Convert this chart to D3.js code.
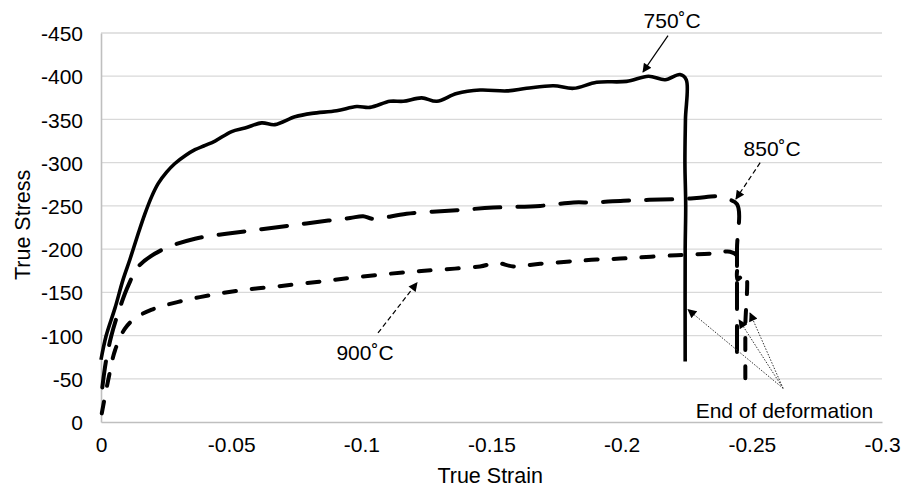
<!DOCTYPE html>
<html lang="en">
  <head>
    <title>True Stress vs True Strain</title>
    <meta charset="utf-8">
    <script src="https://d3js.org/d3.v7.min.js"></script>
    <style>
      body {
        margin: 0;
        background: #fff;
      }
      svg text {
        font-family: "Liberation Sans", Arial, sans-serif;
        fill: #000;
      }
      .grid line {
        stroke: #d9d9d9;
        stroke-width: 1.3;
      }
      .curve {
        fill: none;
        stroke: #000;
        stroke-linejoin: round;
      }
    </style>
  </head>
  <body>
    <div id="main"></div>
    <script>
      // strain, stress pairs
      var curve750 = [[0,-72],[0.002,-100],[0.0054,-132],[0.0085,-165],[0.0111,-188],[0.0143,-218],[0.0169,-241],[0.0195,-261],
        [0.022,-276],[0.0252,-289],[0.0284,-299],[0.0323,-308],[0.0361,-315],[0.04,-320],[0.0438,-325],[0.0502,-336],
        [0.0553,-340],[0.0617,-346],[0.0668,-344],[0.0745,-353],[0.081,-357],
        [0.0905,-360],[0.0982,-365],[0.1033,-364],[0.111,-371],[0.1161,-371],[0.1232,-375],[0.129,-371],[0.1366,-380],
        [0.1456,-384],[0.1559,-383],[0.1635,-386],[0.1738,-389],[0.1815,-386],[0.1904,-393],[0.2019,-394],[0.2103,-400],
        [0.2167,-396],[0.2224,-402],[0.2248,-396],[0.2245,-350],[0.2243,-300],[0.2246,-250],[0.2244,-200],[0.2244,-70]];
      var curve850 = [[0.0005,-40],[0.002,-72],[0.004,-100],[0.007,-130],[0.0105,-158],[0.0144,-180],[0.0233,-199],
        [0.0361,-212],[0.0489,-218],[0.0617,-223],[0.0745,-228],[0.0873,-233],[0.0957,-236],[0.1007,-238],[0.1045,-235],
        [0.1174,-241],[0.1366,-245],[0.1507,-248],[0.1687,-250],[0.1815,-254],[0.189,-254],[0.2007,-256],[0.2224,-258],
        [0.2288,-259],[0.2365,-261],[0.239,-259],[0.2443,-252],[0.2443,-200],[0.2443,-130],[0.2443,-64]];
      var curve900 = [[0.0003,-10],[0.0028,-49],[0.0054,-83],[0.0092,-108],[0.0131,-120],[0.0195,-130],[0.0297,-139],
        [0.0425,-147],[0.0553,-153],[0.0681,-157],[0.0829,-162],[0.0969,-167],[0.1161,-173],[0.129,-176],[0.1456,-180],
        [0.152,-184],[0.1584,-180],[0.1687,-183],[0.1815,-186],[0.1904,-188],[0.1994,-189],[0.2211,-193],[0.2352,-195],
        [0.2416,-197],[0.2443,-192],[0.2445,-165],[0.2475,-172],[0.2475,-110],[0.2475,-45]];
      var xTicks = [0, -0.05, -0.1, -0.15, -0.2, -0.25, -0.3];
      var yTicks = [0, -50, -100, -150, -200, -250, -300, -350, -400, -450];
      var tempLabels = ["750˚C", "850˚C", "900˚C"];
      var labelAt = [[0.2194,-456],[0.2578,-308],[0.1014,-72]];//text anchor points
      var labelArrows = [[[0.2178,-447],[0.2082,-405]],[[0.2532,-300],[0.2439,-258]],[[0.1064,-103],[0.1214,-161]]];
      var endText = "End of deformation";
      var endAt = [0.2625,-5];
      var endFrom = [0.262,-39];
      var endTo = [[0.2255,-130],[0.2451,-118],[0.2493,-126]];

      var width = 916, height = 489;
      var canvas = d3.select("#main").append("svg")
        .attr("width", width)
        .attr("height", height);//create canvas
      var x = d3.scaleLinear().domain([0, -0.3]).range([101, 882]);
      var y = d3.scaleLinear().domain([0, -450]).range([422, 33]);

      var defs = canvas.append("defs");
      defs.append("marker")
        .attr("id", "head")
        .attr("viewBox", "0 0 10 10")
        .attr("refX", 9).attr("refY", 5)
        .attr("markerWidth", 10).attr("markerHeight", 9)
        .attr("markerUnits", "userSpaceOnUse")
        .attr("orient", "auto")
        .append("path").attr("d", "M0,0L10,5L0,10z").attr("fill", "#000");

      canvas.append("g")
        .attr("class", "grid")
        .selectAll("line").data(yTicks.slice(1)).enter().append("line")
          .attr("x1", x(0)).attr("x2", x(-0.3))
          .attr("y1", function(d) { return y(d); })
          .attr("y2", function(d) { return y(d); });//horizontal gridlines

      var hyphen = function(d) { return String(d); };//plain hyphen minus like the original
      var yAxis = d3.axisLeft(y).tickValues(yTicks).tickSize(0).tickPadding(18).tickFormat(hyphen);
      var gy = canvas.append("g").attr("transform", "translate(" + x(0) + ",0)").call(yAxis);
      var xAxis = d3.axisBottom(x).tickValues(xTicks).tickSize(0).tickPadding(15).tickFormat(hyphen);
      var gx = canvas.append("g").attr("transform", "translate(0," + y(0) + ")").call(xAxis);
      [gx, gy].forEach(function(g) {
        g.select(".domain").attr("stroke", "#bfbfbf").attr("stroke-width", 1.6);
        g.selectAll("text").style("font-size", "21px").attr("fill", "#000");
      });
      gy.selectAll("text").attr("dy", "0.36em");

      canvas.append("text")
        .attr("transform", "translate(22," + y(-228) + ") rotate(-90)")
        .attr("text-anchor", "middle")
        .attr("dy", "0.36em")
        .style("font-size", "21.5px")
        .text("True Stress");
      canvas.append("text")
        .attr("x", x(-0.1495)).attr("y", 483)
        .attr("text-anchor", "middle")
        .style("font-size", "21.5px")
        .text("True Strain");

      var line = d3.line()
        .x(function(d) { return x(-d[0]); })
        .y(function(d) { return y(d[1]); })
        .curve(d3.curveCatmullRom.alpha(0.5));
      canvas.append("path").datum(curve900).attr("class", "curve")
        .attr("d", line).attr("stroke-width", 4).attr("stroke-linecap", "round").attr("stroke-dasharray", "12,16");
      canvas.append("path").datum(curve850).attr("class", "curve")
        .attr("d", line).attr("stroke-width", 4).attr("stroke-linecap", "round").attr("stroke-dasharray", "26,17");
      canvas.append("path").datum(curve750).attr("class", "curve")
        .attr("d", line).attr("stroke-width", 3.6);//draw curves

      var arrowStyles = ["none", "5,3", "5,3"];
      labelArrows.forEach(function(a, i) {
        canvas.append("line")
          .attr("x1", x(-a[0][0])).attr("y1", y(a[0][1]))
          .attr("x2", x(-a[1][0])).attr("y2", y(a[1][1]))
          .attr("stroke", "#000").attr("stroke-width", 1.2)
          .attr("stroke-dasharray", arrowStyles[i])
          .attr("marker-end", "url(#head)");
      });
      canvas.selectAll(".templabel").data(tempLabels).enter().append("text")
        .attr("class", "templabel")
        .attr("x", function(d, i) { return x(-labelAt[i][0]); })
        .attr("y", function(d, i) { return y(labelAt[i][1]); })
        .attr("text-anchor", "middle")
        .style("font-size", "21px")
        .text(function(d) { return d; });

      endTo.forEach(function(p) {
        canvas.append("line")
          .attr("x1", x(-endFrom[0])).attr("y1", y(endFrom[1]))
          .attr("x2", x(-p[0])).attr("y2", y(p[1]))
          .attr("stroke", "#333").attr("stroke-width", 1)
          .attr("stroke-dasharray", "1.5,1.5")
          .attr("marker-end", "url(#head)");
      });
      canvas.append("text")
        .attr("x", x(-endAt[0])).attr("y", y(endAt[1]))
        .attr("text-anchor", "middle")
        .style("font-size", "21px")
        .text(endText);
    </script>
  </body>
</html>
